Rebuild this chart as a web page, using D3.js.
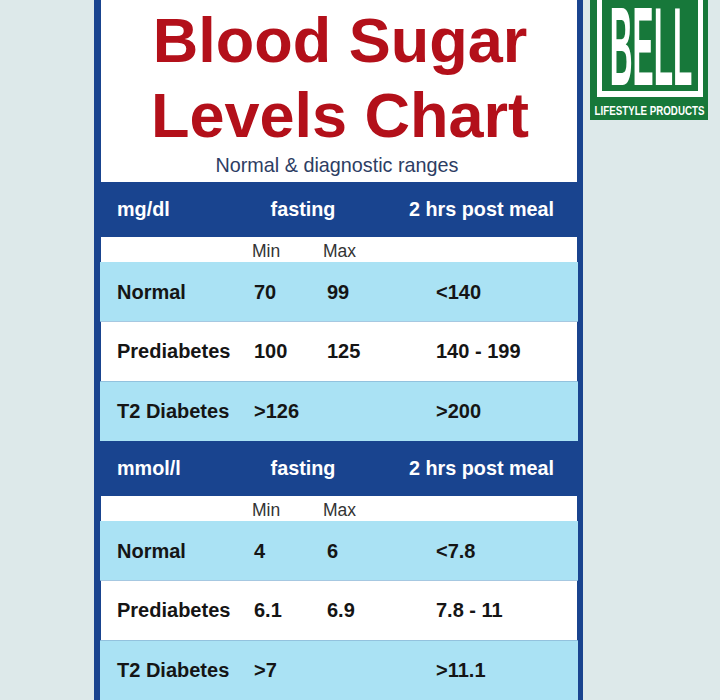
<!DOCTYPE html>
<html>
<head>
<meta charset="utf-8">
<script src="https://cdn.jsdelivr.net/npm/d3@7/dist/d3.min.js"></script>
<style>
    body { margin: 0; background: #dde9ea; }
    svg { display: block; font-family: "Liberation Sans", Arial, sans-serif; }
</style>
</head>
<body>
<div id="chart"></div>
<script>
// Données du tableau
const unites = ["mg/dl", "mmol/l"];
const categories = ["Normal", "Prediabetes", "T2 Diabetes"];
const enTetes = ["fasting", "2 hrs post meal"];
const sousEnTetes = ["Min", "Max"];
const jeunMinMg = ["70", "100", ">126"];
const jeunMaxMg = ["99", "125", ""];
const apresRepasMg = ["<140", "140 - 199", ">200"];
const jeunMinMmol = ["4", "6.1", ">7"];
const jeunMaxMmol = ["6", "6.9", ""];
const apresRepasMmol = ["<7.8", "7.8 - 11", ">11.1"];

const width = 720;
const height = 700;

const couleurs = {
    fond: "#dde9ea",
    bleuFonce: "#19448f",
    bleuClair: "#aae2f4",
    blanc: "#ffffff",
    rouge: "#b3101a",
    vert: "#17783a",
    texte: "#151515"
};

// Construction des sections à partir des tableaux
const sections = [
    { unite: unites[0], min: jeunMinMg, max: jeunMaxMg, post: apresRepasMg },
    { unite: unites[1], min: jeunMinMmol, max: jeunMaxMmol, post: apresRepasMmol }
];

function drawChart(container) {
    const svg = d3.select(container)
        .append("svg")
        .attr("width", width)
        .attr("height", height);

    svg.append("rect")
        .attr("width", width)
        .attr("height", height)
        .attr("fill", couleurs.fond);

    // Carte bleue
    const carte = { left: 94, right: 583, inLeft: 101, inRight: 577, titreBas: 182 };
    svg.append("rect")
        .attr("x", carte.left)
        .attr("y", 0)
        .attr("width", carte.right - carte.left)
        .attr("height", height)
        .attr("fill", couleurs.bleuFonce);

    svg.append("rect")
        .attr("x", carte.inLeft)
        .attr("y", 0)
        .attr("width", carte.inRight - carte.inLeft)
        .attr("height", carte.titreBas)
        .attr("fill", couleurs.blanc);

    // Titre
    const centreTitre = 340;
    svg.append("text")
        .attr("x", centreTitre)
        .attr("y", 62)
        .attr("text-anchor", "middle")
        .attr("font-size", 63)
        .attr("font-weight", "bold")
        .attr("fill", couleurs.rouge)
        .text("Blood Sugar");
    svg.append("text")
        .attr("x", centreTitre)
        .attr("y", 137)
        .attr("text-anchor", "middle")
        .attr("font-size", 63)
        .attr("font-weight", "bold")
        .attr("fill", couleurs.rouge)
        .text("Levels Chart");
    svg.append("text")
        .attr("x", 337)
        .attr("y", 172)
        .attr("text-anchor", "middle")
        .attr("font-size", 19.8)
        .attr("fill", "#2d3d63")
        .text("Normal & diagnostic ranges");

    // Échelles verticales et horizontales
    const ySection = d3.scaleBand()
        .domain(unites)
        .range([carte.titreBas, height]);

    const hauteurEnTete = 55;
    const hauteurSousEnTete = 25;

    const xCol = d3.scaleOrdinal()
        .domain(["label", "min", "max", "post"])
        .range([117, 254, 327, 436]);

    const xEnTete = d3.scaleOrdinal()
        .domain(enTetes)
        .range([303, 409]);

    sections.forEach(section => {
        const y0 = ySection(section.unite);
        const g = svg.append("g");

        // Bandeau d'en-tête
        g.append("text")
            .attr("x", xCol("label"))
            .attr("y", y0 + 34)
            .attr("font-size", 19.8)
            .attr("font-weight", "bold")
            .attr("fill", couleurs.blanc)
            .text(section.unite);

        g.selectAll(".entete")
            .data(enTetes)
            .enter()
            .append("text")
            .attr("class", "entete")
            .attr("x", d => xEnTete(d))
            .attr("y", y0 + 34)
            .attr("text-anchor", (d, i) => i === 0 ? "middle" : "start")
            .attr("font-size", 19.8)
            .attr("font-weight", "bold")
            .attr("fill", couleurs.blanc)
            .text(d => d);

        // Ligne Min / Max
        g.append("rect")
            .attr("x", carte.inLeft)
            .attr("y", y0 + hauteurEnTete)
            .attr("width", carte.inRight - carte.inLeft)
            .attr("height", hauteurSousEnTete)
            .attr("fill", couleurs.blanc);

        g.selectAll(".sousentete")
            .data(sousEnTetes)
            .enter()
            .append("text")
            .attr("class", "sousentete")
            .attr("x", (d, i) => i === 0 ? xCol("min") - 2 : xCol("max") - 4)
            .attr("y", y0 + hauteurEnTete + 20)
            .attr("font-size", 17.5)
            .attr("fill", "#333333")
            .text(d => d);

        // Lignes de données
        const yLigne = d3.scaleBand()
            .domain(categories)
            .range([y0 + hauteurEnTete + hauteurSousEnTete, y0 + ySection.bandwidth()]);

        const lignes = g.selectAll(".ligne")
            .data(categories)
            .enter()
            .append("g")
            .attr("class", "ligne")
            .attr("transform", d => "translate(0," + yLigne(d) + ")");

        lignes.append("rect")
            .attr("x", (d, i) => i % 2 === 0 ? carte.inLeft - 1 : carte.inLeft)
            .attr("width", (d, i) => i % 2 === 0 ? carte.inRight - carte.inLeft + 2 : carte.inRight - carte.inLeft)
            .attr("height", yLigne.bandwidth())
            .attr("fill", (d, i) => i % 2 === 0 ? couleurs.bleuClair : couleurs.blanc);

        const yTexte = yLigne.bandwidth() / 2 + 7;

        // Colonnes : libellé, min, max, après repas
        const colonnes = [
            { cle: "label", valeur: (d, i) => d },
            { cle: "min", valeur: (d, i) => section.min[i] },
            { cle: "max", valeur: (d, i) => section.max[i] },
            { cle: "post", valeur: (d, i) => section.post[i] }
        ];

        colonnes.forEach(col => {
            lignes.append("text")
                .attr("x", xCol(col.cle))
                .attr("y", yTexte)
                .attr("font-size", 20)
                .attr("font-weight", "bold")
                .attr("fill", couleurs.texte)
                .text(col.valeur);
        });
    });

    drawLogo(svg);
}

// Logo BELL en haut à droite
function drawLogo(svg) {
    const logo = svg.append("g");

    logo.append("rect")
        .attr("x", 590).attr("y", 0)
        .attr("width", 118).attr("height", 120)
        .attr("fill", couleurs.vert);

    logo.append("rect")
        .attr("x", 597).attr("y", 0)
        .attr("width", 106).attr("height", 97)
        .attr("fill", couleurs.blanc);

    logo.append("rect")
        .attr("x", 602).attr("y", 0)
        .attr("width", 96).attr("height", 91)
        .attr("fill", couleurs.vert);

    // Lettres condensées : mise à l'échelle plutôt que textLength
    logo.append("text")
        .attr("transform", "translate(651,85) scale(0.79,2.8)")
        .attr("text-anchor", "middle")
        .attr("font-size", 40)
        .attr("font-weight", "bold")
        .attr("fill", couleurs.blanc)
        .text("BELL");

    logo.append("text")
        .attr("transform", "translate(649.5,115) scale(0.78,1)")
        .attr("text-anchor", "middle")
        .attr("font-size", 12.5)
        .attr("font-weight", "bold")
        .attr("fill", couleurs.blanc)
        .text("LIFESTYLE PRODUCTS");
}

drawChart(document.getElementById("chart"));
</script>
</body>
</html>
